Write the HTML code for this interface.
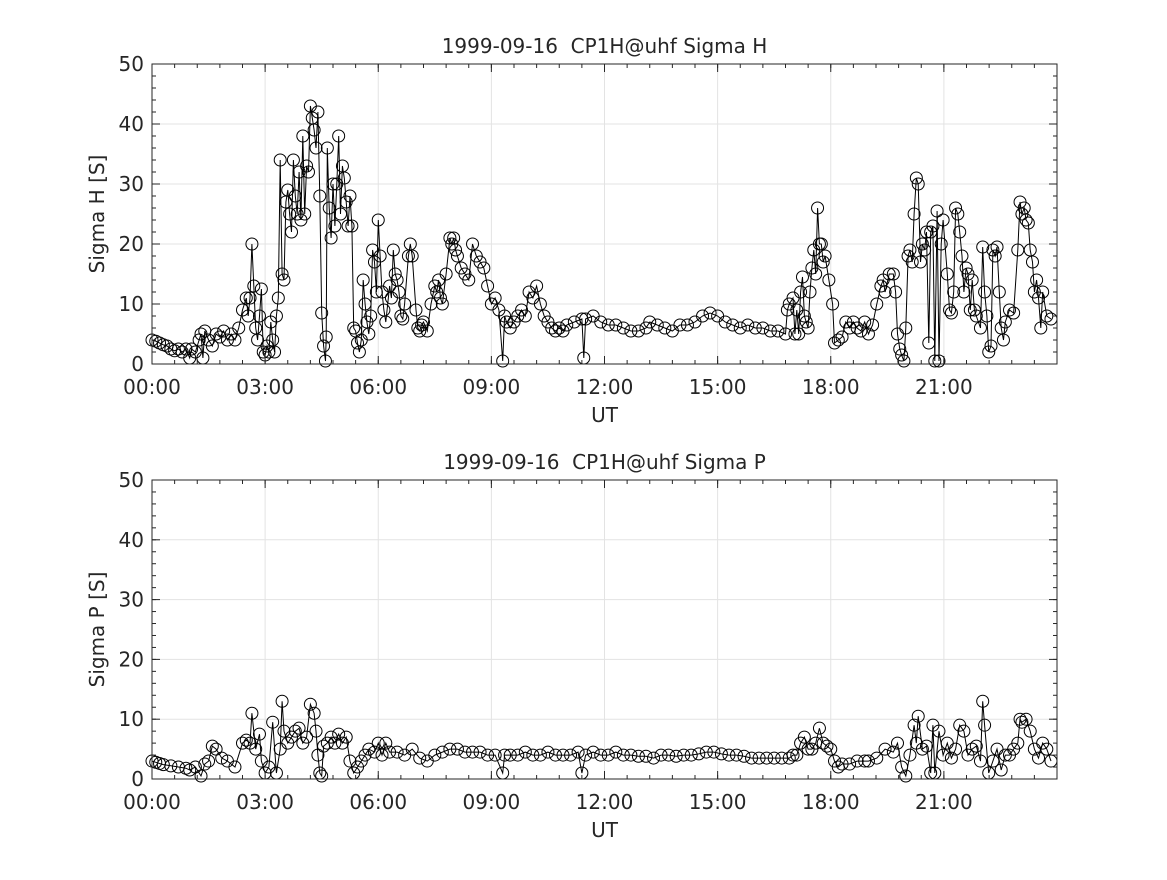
<!DOCTYPE html>
<html><head><meta charset="utf-8"><style>
html,body{margin:0;padding:0;background:#fff}
svg text{font-family:"DejaVu Sans","Liberation Sans",sans-serif;fill:#262626;white-space:pre}
</style></head><body>
<svg id="chart" width="1167" height="875" xmlns="http://www.w3.org/2000/svg">
<rect width="1167" height="875" fill="#fff"/>
</svg>
<script>
const xTickHours=[0,3,6,9,12,15,18,21];
const xTickLabels=["00:00","03:00","06:00","09:00","12:00","15:00","18:00","21:00"];
const yTicks=[0,10,20,30,40,50];
const hTimes=[0,0.1,0.2,0.3,0.4,0.5,0.6,0.7,0.8,0.9,1.0,1.05,1.15,1.25,1.3,1.35,1.4,1.5,1.6,1.7,1.8,1.9,2.0,2.1,2.2,2.3,2.4,2.5,2.55,2.6,2.65,2.7,2.75,2.8,2.85,2.9,2.95,3.0,3.05,3.1,3.15,3.2,3.25,3.3,3.35,3.4,3.45,3.5,3.55,3.6,3.65,3.7,3.75,3.8,3.85,3.9,3.95,4.0,4.05,4.1,4.15,4.2,4.25,4.3,4.35,4.4,4.45,4.5,4.55,4.6,4.62,4.65,4.7,4.75,4.8,4.85,4.9,4.95,5.0,5.05,5.1,5.15,5.2,5.25,5.3,5.35,5.4,5.45,5.5,5.55,5.6,5.65,5.7,5.75,5.8,5.85,5.9,5.95,6.0,6.05,6.1,6.15,6.2,6.3,6.35,6.4,6.45,6.5,6.55,6.6,6.65,6.7,6.8,6.85,6.9,7.0,7.05,7.1,7.15,7.2,7.3,7.4,7.5,7.55,7.6,7.65,7.7,7.8,7.9,7.95,8.0,8.05,8.1,8.2,8.3,8.4,8.5,8.6,8.7,8.8,8.9,9.0,9.1,9.2,9.3,9.35,9.4,9.5,9.6,9.7,9.8,9.9,10.0,10.1,10.2,10.3,10.4,10.5,10.6,10.7,10.8,10.9,11.0,11.2,11.4,11.45,11.5,11.7,11.9,12.1,12.3,12.5,12.7,12.9,13.1,13.2,13.4,13.6,13.8,14.0,14.2,14.4,14.6,14.8,15.0,15.2,15.4,15.6,15.8,16.0,16.2,16.4,16.6,16.8,16.85,16.9,17.0,17.05,17.1,17.15,17.2,17.25,17.3,17.35,17.4,17.45,17.5,17.55,17.6,17.65,17.7,17.75,17.8,17.85,17.95,18.05,18.1,18.2,18.3,18.4,18.5,18.6,18.7,18.8,18.9,19.0,19.11,19.22,19.33,19.39,19.44,19.55,19.66,19.72,19.77,19.83,19.88,19.94,19.99,20.05,20.1,20.16,20.21,20.27,20.32,20.38,20.43,20.49,20.54,20.6,20.65,20.71,20.76,20.82,20.87,20.93,20.98,21.09,21.15,21.2,21.26,21.31,21.37,21.42,21.48,21.53,21.59,21.64,21.7,21.75,21.81,21.86,21.97,22.03,22.08,22.14,22.19,22.25,22.3,22.36,22.41,22.47,22.52,22.58,22.63,22.74,22.85,22.96,23.02,23.07,23.13,23.18,23.24,23.29,23.35,23.4,23.46,23.51,23.57,23.62,23.73,23.84];
const hValues=[4,3.8,3.5,3.2,3,2.5,2.2,2.5,2,2.5,1,2.5,2,4,5,1,5.5,4,3,5,4.5,5.5,4,5,4,6,9,11,8,11,20,13,6,4,8,12.5,2,1.5,3,2,7,4,2,8,11,34,15,14,27,29,25,22,34,28,25,32,24,38,25,33,32,43,41,39,36,42,28,8.5,3,0.5,4.5,36,26,21,30,23,30,38,25,33,31,27,23,28,23,6,5.5,3.5,2,4,14,10,7,5,8,19,17,12,24,18,12,9,7,13,11,19,15,14,12,8,7.5,10,18,20,18,9,6,5.5,6.5,7,5.5,10,13,12,14,11,10,15,21,20,21,19,18,16,15,14,20,18,17,16,13,10,11,9,0.5,8,7,6,7,8,9,8,12,11,13,10,8,7,6,5.5,6,5.5,6.5,7,7.5,1,7.5,8,7,6.5,6.5,6,5.5,5.5,6,7,6.5,6,5.5,6.5,6.5,7,8,8.5,8,7,6.5,6,6.5,6,6,5.5,5.5,5,9,10,11,5,9,5,12,14.5,8,7,6,12,16,19,15,26,20,20,17,18,14,10,3.5,4,4.5,7,6,7,6,5.5,7,5,6.5,10,13,14,12,15,15,12,5,2.5,1.5,0.5,6,18,19,17,25,31,30,17,20,19,22,3.5,22,23,0.5,25.5,0.5,20,24,15,9,8.5,12,26,25,22,18,12,16,15,9,14,9,8,6,19.5,12,8,2,3,19,18,19.5,12,6,4,7,9,8.5,19,27,25,26,24,23.5,19,17,12,14,11,6,12,8,7.5];
const pTimes=[0,0.1,0.2,0.3,0.5,0.7,0.9,1.0,1.15,1.3,1.4,1.5,1.6,1.7,1.85,2.0,2.2,2.4,2.5,2.6,2.65,2.75,2.85,2.9,3.0,3.1,3.2,3.3,3.4,3.45,3.5,3.6,3.7,3.8,3.9,4.0,4.1,4.2,4.3,4.35,4.4,4.45,4.5,4.55,4.65,4.75,4.85,4.95,5.05,5.15,5.25,5.35,5.45,5.55,5.65,5.75,5.9,6.0,6.1,6.2,6.3,6.5,6.7,6.9,7.1,7.3,7.5,7.7,7.9,8.1,8.3,8.5,8.7,8.9,9.1,9.3,9.35,9.5,9.7,9.9,10.1,10.3,10.5,10.7,10.9,11.1,11.3,11.4,11.5,11.7,11.9,12.1,12.3,12.5,12.7,12.9,13.1,13.3,13.5,13.7,13.9,14.1,14.3,14.5,14.7,14.9,15.1,15.3,15.5,15.7,15.9,16.1,16.3,16.5,16.7,16.9,17.0,17.1,17.2,17.3,17.4,17.5,17.6,17.7,17.8,17.9,18.0,18.1,18.2,18.3,18.5,18.7,18.9,19.0,19.22,19.44,19.66,19.77,19.88,19.99,20.1,20.21,20.27,20.32,20.43,20.54,20.65,20.71,20.76,20.87,20.98,21.09,21.2,21.31,21.42,21.53,21.64,21.75,21.86,21.97,22.03,22.08,22.19,22.3,22.41,22.52,22.63,22.74,22.85,22.96,23.02,23.07,23.18,23.29,23.4,23.51,23.62,23.73,23.84];
const pValues=[3,2.8,2.6,2.4,2.2,2,1.8,1.5,2,0.5,2.5,3,5.5,5,3.5,3,2,6,6.5,6,11,5,7.5,3,1,2,9.5,1,5,13,8,6,7,8,8.5,6,7,12.5,11,8,4,1,0.5,5.5,6,7,6,7.5,6,7,3,1,2,3,4,5,4.5,6,4,6,4.5,4.5,4,5,3.5,3,4,4.5,5,5,4.5,4.5,4.5,4,4,1,4,4,4,4.5,4,4,4.5,4,4,4,4.5,1,4,4.5,4,4,4.5,4,4,3.8,3.8,3.5,4,4,3.8,4,4,4.2,4.5,4.5,4.2,4,4,3.8,3.5,3.5,3.5,3.5,3.5,3.5,4,4,6,7,5,5,6,8.5,6,5.5,5,3,2,2.5,2.5,3,3,3,3.5,5,4.5,6,2,0.5,4,9,6,10.5,5,5.5,1,9,1,8,4,6,3.5,5,9,8,4,5,5.5,3,13,9,1,3,5,1.5,4,4,5,6,10,9.5,10,8,5,3.5,6,5,3,3.5];

const NS="http://www.w3.org/2000/svg";
const svg=document.getElementById('chart');
function mk(tag,attrs,parent){const e=document.createElementNS(NS,tag);for(const k in attrs)e.setAttribute(k,attrs[k]);(parent||svg).appendChild(e);return e;}

function drawPanel(cfg){
  const L=152,R=1057,T=cfg.top,B=cfg.bottom;
  const xs=h=>L+(R-L)*h/24;
  const ys=v=>B-(B-T)*v/50;
  const g=mk('g',{});
  
  
  xTickHours.forEach(h=>{const l=mk('line',{x1:xs(h),x2:xs(h),y1:T,y2:B,stroke:'#e3e3e3','stroke-width':1},g);});
  yTicks.forEach(v=>{const l=mk('line',{x1:L,x2:R,y1:ys(v),y2:ys(v),stroke:'#e3e3e3','stroke-width':1},g);});
  const pts=cfg.t.map((t,i)=>xs(t).toFixed(1)+','+ys(cfg.v[i]).toFixed(1)).join(' ');
  const pl=mk('polyline',{points:pts,fill:'none',stroke:'#000','stroke-width':1},g);
  
  
  cfg.t.forEach((t,i)=>{
    const c=mk('circle',{cx:xs(t),cy:ys(cfg.v[i]),r:6,fill:'none',stroke:'#000','stroke-width':1},g);
    
    
  });
  const box=mk('rect',{x:L,y:T,width:R-L,height:B-T,fill:'none',stroke:'#262626','stroke-width':1},g);
  
  
  for(let v=0;v<=50;v+=2){mk('line',{x1:L,x2:L+4,y1:ys(v),y2:ys(v),stroke:'#262626'},g);mk('line',{x1:R,x2:R-4,y1:ys(v),y2:ys(v),stroke:'#262626'},g);}
  for(let h=0;h<=24;h+=0.6){mk('line',{x1:xs(h),x2:xs(h),y1:B,y2:B-4,stroke:'#262626'},g);mk('line',{x1:xs(h),x2:xs(h),y1:T,y2:T+4,stroke:'#262626'},g);}
  yTicks.forEach(v=>{mk('line',{x1:L,x2:L+8,y1:ys(v),y2:ys(v),stroke:'#262626'},g);mk('line',{x1:R,x2:R-8,y1:ys(v),y2:ys(v),stroke:'#262626'},g);
    const tx=mk('text',{x:L-8,y:ys(v)+7,'text-anchor':'end','font-size':20},g);tx.textContent=v;
    });
  xTickHours.forEach((h,i)=>{mk('line',{x1:xs(h),x2:xs(h),y1:B,y2:B-8,stroke:'#262626'},g);mk('line',{x1:xs(h),x2:xs(h),y1:T,y2:T+8,stroke:'#262626'},g);
    const tx=mk('text',{x:xs(h),y:B+30,'text-anchor':'middle','font-size':20},g);tx.textContent=xTickLabels[i];
    });
  const ti=mk('text',{x:(L+R)/2,y:T-11,'text-anchor':'middle','font-size':20},g);ti.textContent=cfg.title;
  
  const xl=mk('text',{x:(L+R)/2,y:B+58,'text-anchor':'middle','font-size':20},g);xl.textContent='UT';
  
  const yl=mk('text',{x:0,y:0,'text-anchor':'middle','font-size':20,transform:`translate(104,${(T+B)/2}) rotate(-90)`},g);yl.textContent=cfg.ylabel;
  
}
drawPanel({name:'sigma-h-panel',series:'sigma-h',top:64,bottom:364,t:hTimes,v:hValues,title:'1999-09-16  CP1H@uhf Sigma H',ylabel:'Sigma H [S]'});
drawPanel({name:'sigma-p-panel',series:'sigma-p',top:480,bottom:779,t:pTimes,v:pValues,title:'1999-09-16  CP1H@uhf Sigma P',ylabel:'Sigma P [S]'});
</script>
</body></html>
